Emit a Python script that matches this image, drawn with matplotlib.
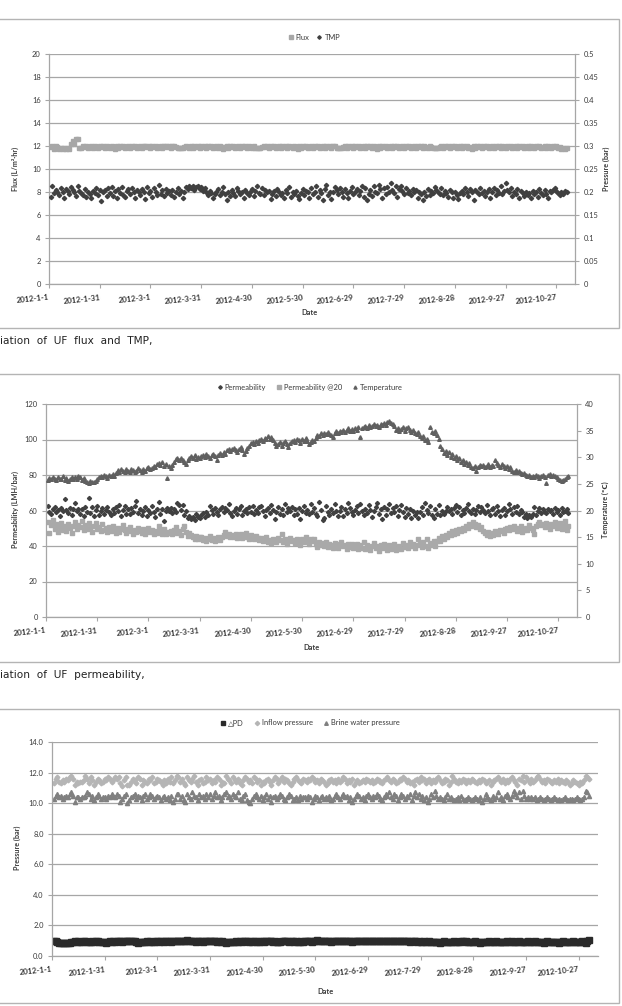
import matplotlib
matplotlib.use('Agg')
import matplotlib.pyplot as plt
from matplotlib.lines import Line2D
from matplotlib.patches import Rectangle
from datetime import datetime
import pandas as pd

plt.rcParams['font.family'] = ['Lato', 'DejaVu Sans']

# ---- data (one value per day from 2012-1-2) ----
start = '2012-01-02'
date_labels = ['2012-1-1', '2012-1-31', '2012-3-1', '2012-3-31', '2012-4-30', '2012-5-30',
               '2012-6-29', '2012-7-29', '2012-8-28', '2012-9-27', '2012-10-27']
x_end = '2012-11-07'

flux = [
    11.9, 12.0, 11.7, 12.0, 11.9, 11.7, 11.8, 11.7, 11.8, 11.7, 11.8, 11.7, 12.2, 12.4, 12.2, 12.6, 12.6, 11.8,
    11.8, 12.0, 11.9, 12.0, 11.8, 11.9, 12.0, 11.8, 12.0, 11.9, 11.8, 12.0, 11.9, 12.0, 11.8, 12.0, 11.9, 11.8,
    12.0, 11.9, 11.7, 12.0, 11.8, 12.0, 11.9, 12.0, 11.8, 11.9, 12.0, 11.8, 12.0, 11.9, 12.0, 11.8, 11.9, 12.0,
    11.8, 12.0, 12.0, 11.9, 12.0, 11.8, 12.0, 11.9, 12.0, 11.8, 11.9, 12.0, 11.8, 12.0, 12.0, 11.9, 12.0, 11.8,
    12.0, 12.0, 11.9, 11.8, 11.8, 11.8, 11.8, 11.9, 12.0, 11.9, 11.8, 12.0, 11.8, 12.0, 11.9, 12.0, 11.8, 12.0,
    11.9, 12.0, 11.8, 12.0, 11.9, 12.0, 11.8, 11.9, 12.0, 11.8, 12.0, 11.9, 11.7, 11.9, 12.0, 11.8, 12.0, 11.9,
    12.0, 11.8, 11.9, 12.0, 11.8, 12.0, 11.9, 12.0, 11.8, 12.0, 11.9, 11.8, 12.0, 11.8, 11.8, 11.8, 11.8, 11.9,
    12.0, 11.9, 12.0, 11.8, 12.0, 11.9, 12.0, 11.8, 11.9, 12.0, 11.8, 12.0, 11.9, 12.0, 11.8, 12.0, 11.9, 11.8,
    12.0, 11.9, 11.7, 12.0, 11.8, 12.0, 11.9, 12.0, 11.8, 11.9, 12.0, 11.8, 12.0, 11.9, 12.0, 11.8, 11.9, 12.0,
    11.8, 12.0, 11.9, 12.0, 11.8, 12.0, 12.0, 11.8, 11.8, 11.8, 11.8, 11.9, 12.0, 11.8, 12.0, 11.9, 12.0, 11.8,
    12.0, 11.9, 12.0, 11.8, 11.9, 12.0, 11.8, 12.0, 11.9, 12.0, 11.8, 12.0, 11.9, 11.7, 12.0, 11.8, 12.0, 11.9,
    12.0, 11.8, 11.9, 12.0, 11.8, 12.0, 11.9, 12.0, 11.8, 11.9, 12.0, 11.8, 12.0, 11.9, 12.0, 11.8, 11.9, 12.0,
    11.8, 12.0, 11.9, 12.0, 11.8, 12.0, 11.9, 11.8, 12.0, 11.9, 11.8, 11.8, 11.8, 11.8, 11.9, 12.0, 11.8, 12.0,
    11.9, 12.0, 11.8, 12.0, 11.9, 12.0, 11.8, 11.9, 12.0, 11.8, 12.0, 11.9, 12.0, 11.8, 11.9, 11.7, 12.0, 11.8,
    12.0, 11.9, 12.0, 11.8, 12.0, 11.9, 12.0, 11.8, 11.9, 12.0, 11.8, 12.0, 11.9, 12.0, 11.8, 12.0, 11.9, 11.8,
    12.0, 11.9, 12.0, 11.8, 11.9, 12.0, 11.8, 12.0, 11.9, 12.0, 11.8, 11.9, 12.0, 11.8, 12.0, 11.9, 11.8, 12.0,
    11.9, 12.0, 11.8, 11.9, 12.0, 11.8, 12.0, 11.9, 11.8, 12.0, 11.9, 12.0, 11.8, 11.9, 11.7, 11.8, 11.7, 11.8,
]

tmp = [
    0.190, 0.212, 0.197, 0.205, 0.201, 0.193, 0.208, 0.199, 0.188, 0.207, 0.203, 0.196, 0.210, 0.205, 0.199, 0.191, 0.212, 0.202,
    0.197, 0.194, 0.207, 0.189, 0.200, 0.196, 0.186, 0.203, 0.198, 0.209, 0.193, 0.205, 0.180, 0.199, 0.204, 0.191, 0.208, 0.197,
    0.210, 0.192, 0.202, 0.188, 0.206, 0.198, 0.211, 0.194, 0.190, 0.203, 0.207, 0.196, 0.209, 0.201, 0.187, 0.205, 0.199, 0.193,
    0.206, 0.201, 0.184, 0.210, 0.197, 0.203, 0.189, 0.208, 0.200, 0.193, 0.216, 0.195, 0.204, 0.191, 0.207, 0.198, 0.202, 0.194,
    0.205, 0.190, 0.199, 0.208, 0.196, 0.203, 0.187, 0.201, 0.210, 0.206, 0.212, 0.209, 0.214, 0.205, 0.211, 0.213, 0.207, 0.210,
    0.202, 0.208, 0.199, 0.193, 0.203, 0.197, 0.188, 0.195, 0.201, 0.206, 0.193, 0.199, 0.210, 0.196, 0.182, 0.200, 0.192, 0.204,
    0.198, 0.191, 0.209, 0.203, 0.195, 0.200, 0.188, 0.205, 0.197, 0.194, 0.201, 0.207, 0.192, 0.203, 0.212, 0.198, 0.196, 0.208,
    0.193, 0.205, 0.199, 0.202, 0.184, 0.196, 0.203, 0.191, 0.207, 0.200, 0.194, 0.198, 0.188, 0.204, 0.197, 0.210, 0.189, 0.201,
    0.196, 0.202, 0.191, 0.185, 0.198, 0.207, 0.193, 0.203, 0.199, 0.188, 0.208, 0.195, 0.201, 0.214, 0.190, 0.204, 0.197, 0.182,
    0.207, 0.216, 0.193, 0.201, 0.185, 0.199, 0.211, 0.204, 0.196, 0.208, 0.201, 0.190, 0.206, 0.198, 0.187, 0.203, 0.211, 0.195,
    0.200, 0.206, 0.194, 0.202, 0.213, 0.189, 0.209, 0.182, 0.196, 0.204, 0.191, 0.212, 0.200, 0.197, 0.215, 0.206, 0.188, 0.208,
    0.195, 0.210, 0.201, 0.219, 0.204, 0.197, 0.212, 0.190, 0.206, 0.214, 0.202, 0.195, 0.209, 0.198, 0.203, 0.193, 0.207, 0.200,
    0.205, 0.188, 0.201, 0.196, 0.182, 0.199, 0.191, 0.206, 0.193, 0.203, 0.197, 0.211, 0.205, 0.200, 0.195, 0.208, 0.194, 0.202,
    0.197, 0.190, 0.204, 0.199, 0.188, 0.201, 0.194, 0.185, 0.198, 0.203, 0.196, 0.208, 0.201, 0.192, 0.206, 0.199, 0.183, 0.205,
    0.200, 0.195, 0.209, 0.197, 0.203, 0.191, 0.199, 0.206, 0.187, 0.201, 0.208, 0.193, 0.204, 0.198, 0.212, 0.196, 0.202, 0.219,
    0.205, 0.199, 0.208, 0.192, 0.201, 0.196, 0.207, 0.188, 0.203, 0.197, 0.191, 0.200, 0.194, 0.198, 0.186, 0.203, 0.195, 0.201,
    0.190, 0.207, 0.198, 0.193, 0.205, 0.196, 0.188, 0.202, 0.199, 0.205, 0.209, 0.203, 0.197, 0.194, 0.200, 0.196, 0.202, 0.199,
]

permeability = [
    62.5, 59.0, 57.8, 60.6, 61.8, 58.9, 60.2, 56.7, 61.4, 59.8, 66.2, 60.5, 58.4, 61.2, 57.3, 60.9, 64.3, 59.6,
    61.0, 58.2, 60.7, 57.1, 62.2, 59.4, 66.8, 58.6, 61.7, 56.9, 60.3, 62.8, 57.6, 59.9, 61.5, 58.0, 60.4, 62.1,
    59.2, 57.5, 60.8, 58.7, 61.9, 59.5, 63.0, 56.8, 60.1, 62.4, 58.3, 60.9, 57.9, 61.3, 59.1, 62.7, 65.3, 58.5,
    60.6, 57.4, 59.7, 61.8, 57.0, 60.2, 58.8, 62.5, 59.3, 56.4, 61.1, 64.6, 58.1, 60.7, 54.3, 59.6, 61.4, 60.0,
    61.6, 58.4, 60.8, 59.2, 64.0, 62.9, 60.4, 63.3, 57.2, 59.8, 55.6, 57.0, 55.2, 56.6, 54.9, 57.8, 56.1, 55.7,
    57.3, 58.5, 56.4, 58.9, 57.6, 62.6, 60.5, 58.3, 61.2, 59.0, 57.7, 60.9, 62.0, 59.4, 61.6, 60.2, 63.8, 58.6,
    56.7, 59.9, 61.3, 58.1, 60.6, 62.4, 57.5, 59.7, 60.8, 58.4, 61.7, 59.1, 62.3, 57.9, 60.3, 58.8, 61.9, 62.6,
    59.6, 57.0, 60.4, 61.5, 58.6, 62.9, 60.1, 55.3, 59.3, 61.8, 58.0, 60.7, 57.6, 63.5, 58.9, 61.2, 59.5, 62.1,
    57.4, 60.9, 58.3, 61.6, 55.1, 59.7, 62.4, 58.6, 60.2, 57.8, 63.9, 59.1, 61.3, 58.2, 56.8, 64.6, 60.5, 54.4,
    55.8, 62.7, 59.4, 57.3, 61.0, 58.5, 63.6, 60.0, 57.1, 59.8, 62.2, 56.9, 60.6, 58.7, 64.4, 61.4, 59.0, 57.7,
    60.3, 62.5, 58.4, 63.8, 59.6, 57.2, 61.1, 58.8, 62.9, 60.4, 56.3, 59.5, 61.9, 64.2, 58.2, 60.8, 55.4, 62.0,
    57.6, 60.9, 63.4, 58.6, 61.5, 59.3, 62.7, 57.0, 60.1, 63.1, 59.2, 56.2, 61.6, 58.3, 60.7, 55.6, 59.8, 57.4,
    58.9, 56.0, 59.4, 61.8, 57.7, 64.5, 60.2, 58.5, 62.6, 57.3, 55.9, 60.6, 58.1, 63.2, 57.6, 59.9, 58.3, 60.0,
    61.7, 59.5, 60.8, 58.2, 61.2, 62.9, 59.0, 62.0, 57.5, 60.3, 58.6, 61.4, 63.5, 59.7, 58.4, 61.1, 57.8, 60.5,
    62.4, 59.3, 61.8, 60.1, 58.7, 63.1, 59.6, 57.2, 60.9, 61.6, 58.3, 62.8, 59.8, 56.9, 60.4, 61.3, 57.5, 59.7,
    63.4, 60.6, 58.2, 61.9, 59.1, 62.3, 57.8, 60.2, 59.4, 56.3, 58.1, 55.8, 57.6, 56.5, 58.0, 61.7, 57.3, 59.9,
    61.4, 58.7, 60.9, 59.4, 58.6, 61.1, 59.6, 60.5, 58.2, 61.6, 59.0, 60.3, 57.7, 61.2, 58.9, 59.8, 60.7, 58.4,
]

permeability_20 = [
    53.5, 47.2, 51.8, 54.6, 49.5, 52.3, 48.0, 50.6, 53.1, 49.0, 51.5, 48.4, 52.6, 50.2, 47.6, 51.0, 53.8, 49.6,
    52.0, 50.5, 54.2, 48.8, 51.6, 49.3, 52.8, 50.1, 47.9, 51.2, 53.0, 49.7, 50.8, 48.3, 52.2, 49.0, 50.4, 47.8,
    50.9, 48.6, 51.4, 49.2, 47.5, 50.3, 48.1, 49.8, 51.6, 48.9, 47.3, 49.5, 50.7, 48.4, 46.8, 49.1, 48.0, 50.2,
    48.7, 47.6, 49.4, 46.5, 48.2, 50.1, 47.8, 49.0, 46.9, 48.5, 47.2, 51.2, 48.8, 47.0, 49.3, 46.6, 48.1, 47.4,
    48.6, 46.9, 49.2, 50.8, 47.5, 48.3, 46.4, 49.6, 51.0, 48.0, 45.9, 47.2, 46.3, 45.0, 44.2, 45.6, 43.8, 44.9,
    45.3, 43.6, 44.7, 42.9, 44.1, 45.8, 43.3, 44.5, 42.6, 43.9, 45.0, 43.2, 44.8, 46.0, 47.8, 45.4, 46.6, 44.9,
    46.2, 45.1, 47.0, 44.6, 45.9, 46.8, 44.3, 45.5, 47.3, 45.0, 44.2, 46.4, 45.3, 43.8, 45.7, 44.4, 43.1, 44.6,
    42.8, 43.9, 44.8, 42.5, 43.6, 41.9, 44.2, 43.0, 42.4, 44.7, 43.3, 46.5, 42.1, 43.7, 41.4, 43.2, 44.5, 42.7,
    43.4, 41.8, 44.1, 42.9, 40.6, 43.8, 42.3, 45.2, 43.5, 41.2, 44.0, 42.6, 43.9, 41.0, 39.5, 42.2, 40.8, 41.6,
    40.1, 42.5, 39.3, 41.4, 40.7, 38.6, 41.9, 40.2, 39.0, 41.1, 42.4, 39.8, 40.5, 38.4, 41.3, 39.6, 40.9, 38.9,
    39.7, 41.2, 38.5, 40.3, 39.1, 42.0, 38.2, 40.6, 39.4, 37.6, 40.0, 41.5, 38.8, 39.9, 37.4, 40.4, 38.6, 41.0,
    39.2, 37.8, 40.7, 38.3, 39.6, 41.3, 37.5, 39.0, 40.2, 38.1, 41.6, 39.4, 40.8, 38.6, 42.1, 39.9, 41.0, 38.7,
    40.5, 43.8, 41.2, 39.6, 42.4, 40.1, 44.2, 38.9, 41.7, 40.3, 42.8, 39.8, 43.0, 44.6, 42.7, 45.4, 44.0, 46.2,
    45.1, 47.3, 46.0, 48.2, 47.0, 48.9, 47.6, 49.4, 48.3, 50.2, 49.1, 51.3, 50.0, 52.6, 51.4, 53.5, 52.2, 50.8,
    51.9, 49.7, 50.5, 48.4, 47.3, 46.2, 48.0, 45.6, 47.1, 46.4, 48.6, 47.5, 46.8, 49.0, 48.2, 47.4, 49.3, 50.1,
    48.8, 50.6, 49.4, 51.2, 50.0, 48.5, 49.7, 51.5, 47.8, 49.2, 50.4, 48.9, 51.8, 50.3, 49.1, 46.9, 51.0, 52.6,
    53.4, 51.6, 52.3, 50.7, 53.0, 51.9, 49.6, 52.5, 51.1, 53.6, 50.4, 52.0, 53.2, 49.8, 51.5, 54.3, 48.9, 51.2,
]

temperature = [
    25.8, 26.1, 25.9, 26.3, 26.0, 25.7, 26.2, 26.0, 25.9, 26.4, 25.8, 26.1, 25.5, 26.0, 26.2, 25.9, 26.3, 26.0,
    26.5, 26.2, 25.8, 26.1, 25.6, 25.3, 25.2, 25.5, 25.4, 25.3, 25.6, 26.0, 26.3, 26.5, 26.2, 26.6, 26.4, 26.1,
    26.7, 26.5, 26.9, 26.4, 27.1, 27.6, 27.3, 27.8, 27.4, 27.2, 27.7, 27.5, 27.3, 27.8, 27.6, 27.2, 27.5, 27.9,
    27.6, 27.3, 27.8, 27.5, 27.9, 28.1, 27.7, 28.0, 28.4, 28.2, 28.7, 28.9, 28.5, 29.1, 28.3, 28.8, 26.1, 28.4,
    28.0, 28.5, 29.2, 29.6, 29.8, 29.5, 29.9, 29.4, 29.1, 28.8, 29.5, 29.9, 30.2, 29.8, 30.4, 29.6, 30.1, 29.9,
    30.2, 30.5, 30.0, 30.6, 30.3, 29.8, 30.4, 30.7, 30.2, 29.4, 30.5, 30.8, 30.4, 31.0, 30.6, 31.3, 31.6, 31.2,
    31.5, 31.8, 31.3, 31.0, 31.6, 31.9, 31.4, 30.6, 31.2, 31.8, 32.1, 32.6, 32.9, 32.5, 33.0, 32.7, 33.2, 33.5,
    33.1, 33.6, 33.4, 33.9, 33.5, 33.8, 33.2, 32.6, 32.1, 32.4, 32.8, 32.2, 32.6, 33.0, 32.5, 31.9, 32.7, 33.1,
    33.3, 32.8, 33.5, 33.2, 32.6, 33.4, 33.1, 33.6, 33.0, 32.4, 32.9, 33.3, 33.0, 33.7, 34.2, 34.0, 34.5, 34.1,
    34.6, 34.3, 34.8, 34.4, 34.1, 33.8, 34.5, 34.9, 34.6, 35.0, 34.7, 35.2, 34.8, 35.1, 35.4, 35.0, 35.3, 34.9,
    35.5, 35.2, 35.6, 33.8, 35.4, 35.7, 35.9, 35.5, 36.0, 35.6, 35.8, 36.2, 35.9, 36.1, 35.7, 36.3, 36.0, 36.4,
    36.1, 36.6, 36.9, 36.5, 36.2, 35.8, 35.2, 35.5, 34.9, 35.3, 35.6, 35.0, 35.4, 35.7, 35.2, 34.8, 35.1, 34.6,
    34.3, 34.7, 34.0, 33.6, 33.9, 33.2, 33.5, 32.9, 35.6, 34.8, 34.5, 34.9, 34.2, 33.4, 32.1, 31.5, 30.8, 31.2,
    30.4, 30.9, 30.1, 30.6, 29.8, 30.2, 29.4, 29.9, 29.1, 29.5, 28.8, 29.2, 28.5, 28.9, 28.2, 27.9, 28.4, 27.4,
    28.1, 28.5, 28.3, 28.6, 28.2, 28.4, 28.7, 28.1, 28.5, 28.3, 29.4, 29.0, 28.6, 28.2, 28.8, 28.4, 27.9, 28.3,
    27.8, 28.1, 27.5, 27.3, 27.6, 27.2, 27.4, 27.0, 26.8, 27.1, 26.6, 26.4, 26.7, 26.3, 26.5, 26.2, 26.6, 26.4,
    26.1, 26.5, 26.7, 26.3, 25.2, 26.6, 26.8, 26.4, 26.7, 26.5, 26.2, 26.0, 25.8, 25.6, 25.7, 25.9, 26.2, 26.5,
]

delta_pd = [
    1.00, 0.95, 0.90, 0.88, 0.86, 0.87, 0.85, 0.88, 0.86, 0.87, 0.92, 0.90, 0.95, 0.93, 0.96, 0.91, 0.89, 0.95,
    0.97, 0.93, 0.90, 0.94, 0.96, 0.92, 0.98, 0.95, 0.91, 0.89, 0.93, 0.90, 0.88, 0.92, 0.95, 0.93, 0.97, 0.94,
    0.96, 0.99, 0.95, 0.92, 0.97, 1.00, 0.96, 0.98, 0.95, 1.01, 0.97, 0.93, 0.88, 0.91, 0.94, 0.92, 0.90, 0.95,
    0.93, 0.96, 0.91, 0.94, 0.97, 0.95, 0.92, 0.96, 0.99, 0.94, 0.97, 0.95, 0.98, 0.94, 0.96, 0.99, 0.95, 0.97,
    1.00, 0.97, 0.99, 0.96, 1.02, 0.98, 0.95, 0.99, 0.97, 0.94, 0.98, 0.96, 0.99, 0.93, 0.97, 0.95, 0.98, 0.96,
    0.99, 0.95, 0.97, 0.94, 0.98, 0.91, 0.95, 0.93, 0.88, 0.90, 0.92, 0.89, 0.94, 0.91, 0.95, 0.93, 0.97, 0.94,
    0.96, 0.99, 0.95, 0.92, 0.97, 0.94, 0.98, 0.95, 0.93, 0.90, 0.96, 0.98, 0.94, 0.97, 0.99, 0.95, 0.97, 0.93,
    0.96, 0.91, 0.94, 0.92, 0.97, 0.95, 0.99, 0.96, 0.93, 0.98, 0.95, 0.92, 0.97, 0.94, 0.90, 0.96, 0.93, 0.95,
    0.98, 1.01, 0.97, 0.94, 0.99, 0.96, 1.02, 0.98, 0.95, 0.99, 0.97, 1.00, 0.96, 0.98, 0.94, 0.97, 0.99, 0.96,
    1.00, 0.97, 0.95, 0.99, 0.96, 0.98, 1.01, 0.97, 0.94, 0.98, 0.95, 0.99, 0.96, 1.00, 0.97, 0.95, 0.98, 0.96,
    0.99, 0.96, 1.00, 0.97, 0.95, 0.98, 1.01, 0.98, 0.96, 0.99, 0.97, 1.00, 0.97, 0.95, 0.98, 0.96, 0.99, 0.97,
    0.95, 0.98, 0.96, 0.99, 0.97, 0.94, 0.98, 0.95, 0.97, 0.93, 0.96, 0.94, 0.92, 0.95, 0.91, 0.93, 0.96, 0.92,
    0.94, 0.90, 0.93, 0.91, 0.88, 0.92, 0.95, 0.90, 0.93, 0.89, 0.92, 0.94, 0.96, 0.93, 0.90, 0.94, 0.98, 0.95,
    0.92, 0.95, 0.91, 0.94, 0.89, 0.92, 0.95, 0.90, 0.93, 0.88, 0.91, 0.94, 0.90, 0.93, 0.96, 0.92, 0.89, 0.93,
    0.96, 0.92, 0.89, 0.93, 0.90, 0.94, 0.97, 0.93, 0.91, 0.95, 0.92, 0.89, 0.93, 0.96, 0.92, 0.90, 0.94, 0.91,
    0.95, 0.92, 0.89, 0.93, 0.96, 0.92, 0.90, 0.94, 0.91, 0.88, 0.92, 0.95, 0.91, 0.89, 0.93, 0.90, 0.94, 0.91,
    0.88, 0.92, 0.95, 0.91, 0.89, 0.93, 0.90, 0.94, 0.96, 0.92, 0.89, 0.93, 0.90, 0.95, 0.92, 0.88, 1.00, 1.02,
]

inflow = [
    11.3, 11.6, 11.7, 11.4, 11.3, 11.5, 11.4, 11.6, 11.5, 11.7, 11.8, 11.6, 11.2, 11.4, 11.3, 11.4, 11.4, 11.5,
    11.8, 11.6, 11.3, 11.7, 11.5, 11.2, 11.4, 11.6, 11.5, 11.3, 11.4, 11.6, 11.5, 11.7, 11.6, 11.4, 11.5, 11.7,
    11.6, 11.7, 11.3, 11.1, 11.5, 11.7, 11.2, 11.2, 11.4, 11.6, 11.5, 11.3, 11.7, 11.6, 11.2, 11.5, 11.4, 11.3,
    11.6, 11.5, 11.7, 11.3, 11.4, 11.6, 11.5, 11.4, 11.2, 11.5, 11.3, 11.6, 11.4, 11.7, 11.3, 11.5, 11.8, 11.7,
    11.4, 11.6, 11.3, 11.2, 11.7, 11.5, 11.4, 11.6, 11.8, 11.4, 11.2, 11.5, 11.6, 11.3, 11.4, 11.7, 11.5, 11.6,
    11.3, 11.5, 11.4, 11.7, 11.6, 11.2, 11.4, 11.3, 11.8, 11.6, 11.5, 11.3, 11.7, 11.5, 11.4, 11.6, 11.3, 11.2,
    11.5, 11.7, 11.6, 11.4, 11.5, 11.3, 11.7, 11.6, 11.4, 11.5, 11.2, 11.4, 11.3, 11.5, 11.6, 11.4, 11.2, 11.5,
    11.7, 11.6, 11.3, 11.5, 11.7, 11.4, 11.6, 11.5, 11.3, 11.2, 11.4, 11.6, 11.7, 11.5, 11.4, 11.3, 11.6, 11.5,
    11.4, 11.6, 11.5, 11.7, 11.6, 11.4, 11.5, 11.3, 11.6, 11.5, 11.4, 11.2, 11.3, 11.5, 11.6, 11.4, 11.5, 11.3,
    11.6, 11.4, 11.5, 11.7, 11.6, 11.3, 11.5, 11.4, 11.6, 11.2, 11.4, 11.5, 11.3, 11.4, 11.5, 11.4, 11.6, 11.5,
    11.4, 11.5, 11.3, 11.4, 11.6, 11.5, 11.4, 11.3, 11.5, 11.6, 11.7, 11.5, 11.4, 11.6, 11.5, 11.3, 11.4, 11.6,
    11.5, 11.7, 11.6, 11.4, 11.5, 11.3, 11.4, 11.2, 11.5, 11.6, 11.4, 11.7, 11.5, 11.6, 11.3, 11.5, 11.6, 11.3,
    11.5, 11.4, 11.6, 11.7, 11.5, 11.3, 11.4, 11.6, 11.5, 11.2, 11.4, 11.8, 11.6, 11.4, 11.3, 11.5, 11.4, 11.6,
    11.5, 11.3, 11.5, 11.4, 11.6, 11.5, 11.4, 11.3, 11.5, 11.4, 11.6, 11.5, 11.3, 11.4, 11.5, 11.2, 11.4, 11.5,
    11.6, 11.7, 11.5, 11.4, 11.6, 11.3, 11.5, 11.4, 11.6, 11.7, 11.5, 11.4, 11.2, 11.6, 11.5, 11.8, 11.4, 11.7,
    11.5, 11.3, 11.6, 11.4, 11.5, 11.7, 11.8, 11.6, 11.4, 11.5, 11.3, 11.6, 11.5, 11.4, 11.3, 11.5, 11.4, 11.6,
    11.3, 11.5, 11.4, 11.3, 11.5, 11.4, 11.2, 11.3, 11.5, 11.4, 11.3, 11.2, 11.4, 11.3, 11.5, 11.8, 11.7, 11.6,
]

brine = [
    10.3, 10.5, 10.6, 10.4, 10.5, 10.3, 10.4, 10.5, 10.4, 10.6, 10.7, 10.5, 10.1, 10.4, 10.4, 10.3, 10.4, 10.4,
    10.5, 10.7, 10.6, 10.3, 10.5, 10.2, 10.4, 10.6, 10.5, 10.3, 10.4, 10.4, 10.3, 10.5, 10.4, 10.6, 10.5, 10.4,
    10.6, 10.5, 10.1, 10.3, 10.5, 10.6, 10.0, 10.2, 10.4, 10.5, 10.6, 10.3, 10.5, 10.4, 10.2, 10.5, 10.6, 10.3,
    10.4, 10.6, 10.5, 10.3, 10.4, 10.5, 10.4, 10.2, 10.4, 10.5, 10.3, 10.4, 10.2, 10.5, 10.1, 10.3, 10.6, 10.6,
    10.3, 10.5, 10.2, 10.1, 10.6, 10.4, 10.3, 10.7, 10.5, 10.4, 10.2, 10.6, 10.4, 10.5, 10.3, 10.6, 10.4, 10.6,
    10.3, 10.5, 10.7, 10.4, 10.5, 10.2, 10.4, 10.6, 10.7, 10.4, 10.5, 10.3, 10.6, 10.5, 10.4, 10.7, 10.3, 10.2,
    10.5, 10.6, 10.2, 10.1, 10.0, 10.3, 10.5, 10.6, 10.4, 10.3, 10.5, 10.2, 10.4, 10.6, 10.3, 10.5, 10.1, 10.4,
    10.5, 10.3, 10.4, 10.6, 10.5, 10.3, 10.2, 10.4, 10.6, 10.5, 10.2, 10.3, 10.4, 10.2, 10.5, 10.3, 10.4, 10.4,
    10.3, 10.5, 10.4, 10.1, 10.3, 10.5, 10.4, 10.2, 10.4, 10.5, 10.3, 10.4, 10.3, 10.5, 10.2, 10.3, 10.5, 10.6,
    10.4, 10.3, 10.5, 10.6, 10.4, 10.5, 10.2, 10.4, 10.1, 10.3, 10.5, 10.6, 10.5, 10.3, 10.4, 10.2, 10.5, 10.6,
    10.4, 10.3, 10.5, 10.4, 10.6, 10.5, 10.3, 10.2, 10.4, 10.6, 10.5, 10.7, 10.4, 10.3, 10.6, 10.5, 10.2, 10.4,
    10.6, 10.5, 10.3, 10.5, 10.4, 10.6, 10.2, 10.5, 10.7, 10.4, 10.6, 10.3, 10.5, 10.2, 10.4, 10.1, 10.3, 10.6,
    10.4, 10.8, 10.5, 10.3, 10.4, 10.3, 10.2, 10.4, 10.6, 10.3, 10.4, 10.3, 10.2, 10.3, 10.4, 10.2, 10.5, 10.3,
    10.2, 10.3, 10.4, 10.3, 10.2, 10.3, 10.4, 10.3, 10.2, 10.4, 10.1, 10.3, 10.6, 10.4, 10.3, 10.2, 10.5, 10.3,
    10.4, 10.7, 10.3, 10.4, 10.2, 10.5, 10.6, 10.4, 10.3, 10.5, 10.8, 10.6, 10.4, 10.7, 10.3, 10.8, 10.5, 10.3,
    10.4, 10.3, 10.4, 10.3, 10.4, 10.2, 10.3, 10.4, 10.3, 10.2, 10.3, 10.4, 10.3, 10.2, 10.3, 10.4, 10.3, 10.2,
    10.3, 10.2, 10.3, 10.4, 10.3, 10.2, 10.3, 10.3, 10.2, 10.3, 10.4, 10.3, 10.2, 10.3, 10.4, 10.8, 10.7, 10.5,
]

# ---- layout helpers (pixel based) ----
W, H = 622, 1006
GRID = '#a6a6a6'
TXT = '#3a3a3a'

fig = plt.figure(figsize=(W / 100, H / 100), dpi=100)


def px_axes(l, t, r, b):
    return fig.add_axes([l / W, 1 - b / H, (r - l) / W, (b - t) / H])


def frame(t, b):
    fig.add_artist(Rectangle((-3 / W, 1 - b / H), 622 / W, (b - t) / H,
                             transform=fig.transFigure, fill=False, ec='#b4b4b4', lw=1.0))


def ftext(x, y, s, **kw):
    fig.text(x / W, 1 - y / H, s, **kw)


def days(vals):
    return pd.date_range(start, periods=len(vals), freq='D')


tick_dates = [datetime.strptime(s, '%Y-%m-%d') for s in date_labels]
x0 = tick_dates[0]
x1 = datetime.strptime(x_end, '%Y-%m-%d')


def base_style(ax, ymax, ystep, fmt):
    ax.set_xlim(x0, x1)
    ax.set_ylim(0, ymax)
    yt = [i * ystep for i in range(int(round(ymax / ystep)) + 1)]
    ax.set_yticks(yt)
    ax.set_yticklabels([fmt(v) for v in yt])
    ax.set_xticks(tick_dates)
    ax.set_xticklabels(date_labels, rotation=6, ha='right', rotation_mode='anchor',
                       fontsize=5.6, fontweight='bold', color=TXT)
    ax.yaxis.grid(True, color=GRID, lw=0.9)
    ax.set_axisbelow(True)
    for s in ['top', 'right']:
        ax.spines[s].set_visible(False)
    for s in ['left', 'bottom']:
        ax.spines[s].set_color(GRID)
        ax.spines[s].set_linewidth(0.9)
    ax.tick_params(axis='y', labelsize=5.4, colors=TXT, length=3, width=0.8, pad=3)
    ax.tick_params(axis='x', length=3, width=0.8, pad=4, color=GRID)
    ax.tick_params(axis='y', color=GRID)


def right_style(ax2, ymax, ystep, fmt):
    ax2.set_ylim(0, ymax)
    yt = [i * ystep for i in range(int(round(ymax / ystep)) + 1)]
    ax2.set_yticks(yt)
    ax2.set_yticklabels([fmt(v) for v in yt])
    for s in ['top', 'left', 'bottom']:
        ax2.spines[s].set_visible(False)
    ax2.spines['right'].set_color(GRID)
    ax2.spines['right'].set_linewidth(0.9)
    ax2.tick_params(axis='y', labelsize=5.4, colors=TXT, length=3, width=0.8, pad=3)
    ax2.tick_params(axis='y', color=GRID)


def gfmt(v):
    return f'{v:g}'


def legend(handles, labels, x, y, spacing=1.6):
    fig.legend(handles, labels, loc='center', bbox_to_anchor=(x / W, 1 - y / H),
               ncol=len(handles), frameon=False, prop={'size': 5.4},
               handlelength=0.7, handletextpad=0.3, columnspacing=spacing,
               labelcolor=TXT)


def mk(marker, color, ms):
    return Line2D([], [], ls='none', marker=marker, color=color, markersize=ms, mec=color)


# ---- panel 1: flux and TMP ----
C_FLUX, C_TMP = '#a7a7a7', '#404040'
frame(19, 328)
ax = px_axes(49, 54, 575, 284)
base_style(ax, 20, 2, gfmt)
ax.plot(days(flux), flux, ls='none', marker='s', ms=2.7, color=C_FLUX, mec=C_FLUX)
ax2 = ax.twinx()
right_style(ax2, 0.5, 0.05, gfmt)
ax2.plot(days(tmp), tmp, ls='none', marker='D', ms=2.2, color=C_TMP, mec=C_TMP)
ax2.set_xlim(x0, x1)
legend([mk('s', C_FLUX, 2.4), mk('D', C_TMP, 1.8)], ['Flux', 'TMP'], 314, 37, 1.0)
ftext(15, 169, 'Flux (L/m²·hr)', rotation=90, ha='center', va='center', fontsize=5.2,
      fontweight='bold', color=TXT)
ftext(606, 169, 'Pressure (bar)', rotation=90, ha='center', va='center', fontsize=5.2,
      fontweight='bold', color=TXT)
ftext(310, 313, 'Date', ha='center', va='center', fontsize=5.4, fontweight='bold', color=TXT)
ftext(0, 341, 'iation  of  UF  flux  and  TMP,', ha='left', va='center', fontsize=7.6,
      color='#222222', family=['DejaVu Sans'])

# ---- panel 2: permeability ----
C_P, C_P20, C_T = '#404040', '#a9a9a9', '#606060'
frame(374, 662)
ax = px_axes(46, 404, 577, 617)
base_style(ax, 120, 20, gfmt)
ax.plot(days(permeability_20), permeability_20, ls='none', marker='s', ms=2.6,
        color=C_P20, mec=C_P20)
ax.plot(days(permeability), permeability, ls='none', marker='D', ms=2.1, color=C_P, mec=C_P)
ax2 = ax.twinx()
right_style(ax2, 40, 5, gfmt)
ax2.plot(days(temperature), temperature, ls='none', marker='^', ms=2.6, color=C_T, mec=C_T)
ax2.set_xlim(x0, x1)
legend([mk('D', C_P, 1.8), mk('s', C_P20, 2.4), mk('^', C_T, 2.2)],
       ['Permeability', 'Permeability @20', 'Temperature'], 310, 387, 1.4)
ftext(15, 510, 'Permeability (LMH/bar)', rotation=90, ha='center', va='center', fontsize=5.2,
      fontweight='bold', color=TXT)
ftext(605, 510, 'Temperature (℃)', rotation=90, ha='center', va='center', fontsize=5.2,
      fontweight='bold', color=TXT)
ftext(311, 647, 'Date', ha='center', va='center', fontsize=5.4, fontweight='bold', color=TXT)
ftext(0, 675, 'iation  of  UF  permeability,', ha='left', va='center', fontsize=7.6,
      color='#222222', family=['DejaVu Sans'])

# ---- panel 3: pressures ----
C_DPD, C_IN, C_BR = '#2a2a2a', '#b5b5b5', '#808080'
frame(709, 1003)
ax = px_axes(52, 742, 598, 956)
base_style(ax, 14, 2, lambda v: f'{v:.1f}')
ax.plot(days(inflow), inflow, ls='none', marker='D', ms=2.4, color=C_IN, mec=C_IN)
ax.plot(days(brine), brine, ls='none', marker='^', ms=3.0, color=C_BR, mec=C_BR)
ax.plot(days(delta_pd), delta_pd, ls='none', marker='s', ms=4.0, color=C_DPD, mec=C_DPD)
legend([mk('s', C_DPD, 3.4), mk('D', C_IN, 2.2), mk('^', C_BR, 2.6)],
       ['△PD', 'Inflow pressure', 'Brine water pressure'], 310, 723, 1.4)
ftext(17, 848, 'Pressure (bar)', rotation=90, ha='center', va='center', fontsize=5.2,
      fontweight='bold', color=TXT)
ftext(325, 991, 'Date', ha='center', va='center', fontsize=5.4, fontweight='bold', color=TXT)

fig.savefig('out.png', dpi=100)
